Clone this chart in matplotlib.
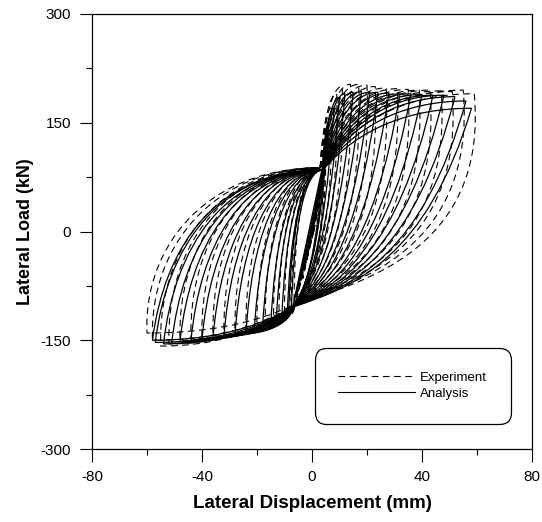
import numpy as np
import matplotlib
matplotlib.use("Agg")
import matplotlib.pyplot as plt
from matplotlib.path import Path
from matplotlib.patches import PathPatch
from matplotlib.lines import Line2D
from matplotlib.ticker import MultipleLocator

plt.rcParams["font.family"] = ["Liberation Sans", "DejaVu Sans"]
plt.rcParams["axes.unicode_minus"] = False

# small elastic cycles near the origin (mm, kN)
small_disp_pos = [2, 3, 4, 5]
small_load_pos = [40, 60, 85, 110]
small_disp_neg = [-3, -4, -6, -7]
small_load_neg = [-45, -65, -90, -104]

# peak points of each loading cycle (mm, kN)
ana_disp_pos = [4.5, 5.5, 6, 8, 10, 12, 15, 18, 21, 24, 28, 32, 36, 40, 44, 48, 52, 56, 58]
ana_load_pos = [115, 135, 150, 170, 185, 190, 192, 193, 192, 192, 191, 190, 190, 189, 188, 188, 186, 180, 170]
ana_disp_neg = [-7.5, -8.5, -9, -11, -13, -15, -18, -21, -24, -28, -32, -36, -40, -44, -48, -51, -54, -57, -58]
ana_load_neg = [-110, -114, -118, -124, -128, -132, -136, -139, -141, -143, -145, -147, -149, -150, -152,
                -154, -155, -153, -150]
ana_pinch_pos = (4, 85)
ana_pinch_neg = (-7, -104)

exp_disp_pos = [4, 4.5, 5, 7, 9, 11, 14, 17, 20, 23, 27, 31, 35, 39, 43, 47, 51, 55, 59]
exp_load_pos = [105, 125, 140, 170, 190, 200, 203, 203, 202, 200, 198, 197, 196, 195, 195, 194, 193, 195, 190]
exp_disp_neg = [-6.5, -7.5, -8, -10, -12, -14, -17, -20, -24, -28, -32, -36, -40, -44, -48, -52, -55, -58, -60]
exp_load_neg = [-105, -110, -115, -120, -125, -128, -132, -135, -138, -140, -142, -144, -146, -148, -150,
                -155, -158, -150, -140]
exp_pinch_pos = (3, 88)
exp_pinch_neg = (-6, -100)

DASH = (0, (6, 4))


def cycle_path(dp, fp, dn, fn, pu, pl, unload_in, reload_in):
    # one pinched loop as bezier segments between pinch points and peaks
    verts = [
        pu,
        (pu[0] + 0.25 * (dp - pu[0]), pu[1] + 0.7 * (fp - pu[1])),
        (pu[0] + 0.6 * (dp - pu[0]), fp),
        (dp, fp),
        (dp - unload_in * (dp - pl[0]), fp - 0.75 * (fp - pl[1])),
        (pl[0] + 0.35 * (dp - pl[0]), pl[1] + 0.1 * (fp - pl[1])),
        pl,
        (pl[0] + 0.3 * (dn - pl[0]), pl[1] + 0.75 * (fn - pl[1])),
        (pl[0] + 0.65 * (dn - pl[0]), fn),
        (dn, fn),
        (dn + reload_in * (pu[0] - dn), fn + 0.55 * (pu[1] - fn)),
        (pu[0] - 0.63 * (pu[0] - dn), pu[1]),
        pu,
    ]
    codes = [Path.MOVETO] + [Path.CURVE4] * 12
    return Path(verts, codes)


fig = plt.figure(figsize=(5.42, 5.22), dpi=100)
ax = fig.add_axes([0.1697, 0.1398, 0.8118, 0.8334])

for i in range(len(small_disp_pos)):
    xs = [0, small_disp_pos[i], small_disp_neg[i], 0]
    ys = [0, small_load_pos[i], small_load_neg[i], 0]
    ax.plot(xs, ys, color="black", lw=0.9)
    ax.plot([x + 0.6 for x in xs], ys, color="black", lw=0.8, linestyle=DASH)

for i in range(len(exp_disp_pos)):
    p = cycle_path(exp_disp_pos[i], exp_load_pos[i], exp_disp_neg[i], exp_load_neg[i],
                   exp_pinch_pos, exp_pinch_neg, -0.08, -0.02)
    ax.add_patch(PathPatch(p, fill=False, edgecolor="black", lw=0.8, linestyle=DASH))

for i in range(len(ana_disp_pos)):
    p = cycle_path(ana_disp_pos[i], ana_load_pos[i], ana_disp_neg[i], ana_load_neg[i],
                   ana_pinch_pos, ana_pinch_neg, 0.25, 0.07)
    ax.add_patch(PathPatch(p, fill=False, edgecolor="black", lw=0.9))

ax.set_xlim(-80, 80)
ax.set_ylim(-300, 300)
ax.xaxis.set_major_locator(MultipleLocator(40))
ax.xaxis.set_minor_locator(MultipleLocator(20))
ax.yaxis.set_major_locator(MultipleLocator(150))
ax.yaxis.set_minor_locator(MultipleLocator(75))
ax.tick_params(which="major", direction="out", length=9, width=0.8, labelsize=11, pad=6)
ax.tick_params(which="minor", direction="out", length=4.5, width=0.8)
for s in ax.spines.values():
    s.set_linewidth(0.9)

ax.set_xlabel("Lateral Displacement (mm)", fontsize=13.5, fontweight="bold", labelpad=8)
ax.set_ylabel("Lateral Load (kN)", fontsize=13, fontweight="bold", labelpad=5)

handles = [Line2D([], [], color="black", lw=0.8, linestyle=DASH),
           Line2D([], [], color="black", lw=0.8)]
leg = ax.legend(handles, ["Experiment", "Analysis"], loc="upper left",
                bbox_to_anchor=(0.491, 0.248), fontsize=9.5, handlelength=5.8,
                handletextpad=0.4, borderpad=1.8, labelspacing=0.3,
                fancybox=True, framealpha=1, edgecolor="black")
leg.get_frame().set_linewidth(0.9)
leg.get_frame().set_boxstyle("round", pad=0, rounding_size=0.9)

fig.savefig("out.png", dpi=100)
